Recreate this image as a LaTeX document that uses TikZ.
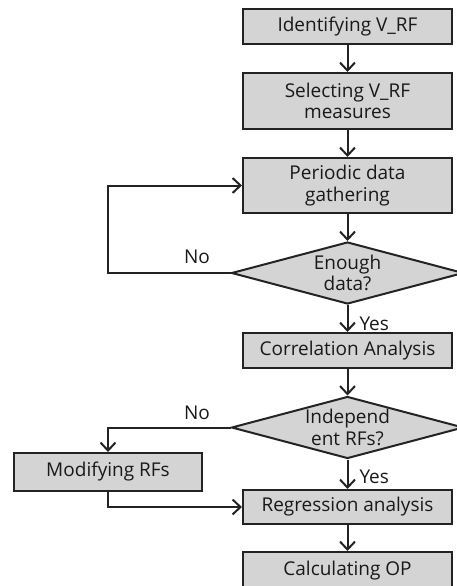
\documentclass[tikz,border=0pt]{standalone}
\usepackage{fontspec}
\setmainfont{Open Sans}
\usetikzlibrary{arrows.meta,shapes.geometric}
\definecolor{boxfill}{RGB}{212,212,212}
\definecolor{inkline}{RGB}{35,35,35}
\definecolor{inktext}{RGB}{25,25,25}
\tikzset{
  every node/.style={text=inktext, font=\fontsize{19}{21.5}\selectfont},
  stepbox/.style={draw=inkline, fill=boxfill, line width=2pt, rectangle,
    minimum width=209pt, inner sep=0pt, align=center},
  decision/.style={draw=inkline, fill=boxfill, line width=2pt, diamond,
    minimum width=232pt, minimum height=62pt, inner sep=0pt},
  flow/.style={draw=inkline, line width=2pt,
    -{Straight Barb[length=8pt,width=15pt,line width=2pt]}},
  tag/.style={inner sep=1pt}
}
\begin{document}
\begin{tikzpicture}[x=1pt,y=-1pt]
\useasboundingbox (0,0) rectangle (457,586);

% main column
\node[stepbox, minimum height=35pt] (idf) at (347.5,26.5) {Identifying V\_RF};
\node[stepbox, minimum height=56pt] (sel) at (347.5,101) {Selecting V\_RF\\measures};
\node[stepbox, minimum height=55pt] (gat) at (347.5,185.5) {Periodic data\\gathering};
\node[decision] (enough) at (347.5,273) {};
\node[align=center] (enought) at (enough) {Enough\\data?};
\node[stepbox, minimum height=35pt] (cor) at (347.5,350.5) {Correlation Analysis};
\node[decision] (indep) at (347.5,427.5) {};
\node[align=center] (indept) at (indep) {Independ\\ent RFs?};
\node[stepbox, minimum height=34pt] (reg) at (347.5,507) {Regression analysis};
\node[stepbox, minimum height=38pt] (calc) at (347.5,571) {Calculating OP};

% side box
\node[stepbox, minimum width=188pt, minimum height=38pt] (mod) at (108,472) {Modifying RFs};

% connectors
\draw[flow] (idf) -- (sel);
\draw[flow] (sel) -- (gat);
\draw[flow] (gat) -- (enough);
\draw[flow] (enough) -- node[tag, anchor=west, pos=0.7, xshift=10pt] (yes1) {Yes} (cor);
\draw[flow] (enough.west) -- ++(-123,0) |- (gat.west);
\node[tag] (no1) at (197,257) {No};
\draw[flow] (cor) -- (indep);
\draw[flow] (indep) -- node[tag, anchor=west, pos=0.6, xshift=10pt] (yes2) {Yes} (reg);
\draw[flow] (indep.west) -| (mod.north);
\node[tag] (no2) at (197,413) {No};
\draw[flow] (mod.south) |- (reg.west);
\draw[flow] (reg) -- (calc);
\end{tikzpicture}
\end{document}
